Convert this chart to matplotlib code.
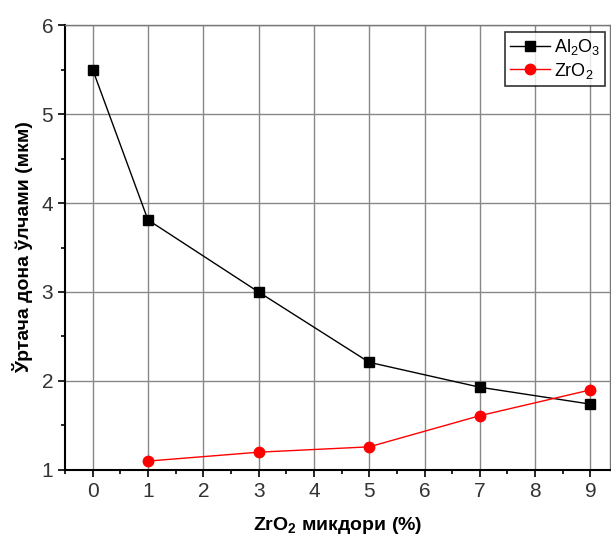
import matplotlib
matplotlib.use('Agg')
import matplotlib.pyplot as plt
from matplotlib.ticker import MultipleLocator

plt.rcParams['font.family'] = ['Liberation Sans', 'DejaVu Sans']
plt.rcParams['mathtext.fontset'] = 'custom'
plt.rcParams['mathtext.rm'] = 'Liberation Sans'
plt.rcParams['mathtext.bf'] = 'Liberation Sans:bold'
plt.rcParams['mathtext.default'] = 'regular'

x_al = [0, 1, 3, 5, 7, 9]
al2o3 = [5.50, 3.81, 3.00, 2.21, 1.93, 1.74]

x_zr = [1, 3, 5, 7, 9]
zro2 = [1.10, 1.20, 1.26, 1.61, 1.90]

fig = plt.figure(figsize=(6.11, 5.37), dpi=100)
ax = fig.add_axes([0.1064, 0.1248, 0.8916, 0.8286])

ax.plot(x_al, al2o3, color='black', lw=1, marker='s', ms=6.5, label='Al$_2$O$_3$', zorder=3)
ax.plot(x_zr, zro2, color='red', lw=1, marker='o', ms=7.5, label='ZrO$_2$', zorder=3)

ax.set_xlim(-0.5, 9.35)
ax.set_ylim(1, 6)
ax.xaxis.set_major_locator(MultipleLocator(1))
ax.xaxis.set_minor_locator(MultipleLocator(0.5))
ax.yaxis.set_major_locator(MultipleLocator(1))
ax.yaxis.set_minor_locator(MultipleLocator(0.5))
ax.grid(True, which='major', color='#888888', lw=1)
ax.set_axisbelow(True)

ax.tick_params(which='major', direction='out', length=5, width=1.2, labelsize=15, colors='black')
ax.tick_params(which='minor', direction='out', length=3, width=1.2)
for side in ['left', 'bottom']:
    ax.spines[side].set_linewidth(1.5)
for side in ['top', 'right']:
    ax.spines[side].set_linewidth(1)
    ax.spines[side].set_color('#777777')
for lbl in ax.get_xticklabels() + ax.get_yticklabels():
    lbl.set_color('#333333')

ax.set_xlabel(r'ZrO$_\mathbf{2}$ микдори (%)', fontsize=14, fontweight='bold', labelpad=10)
ax.set_ylabel('Ўртача дона ўлчами (мкм)', fontsize=14, fontweight='bold', labelpad=6)

leg = ax.legend(loc='upper right', bbox_to_anchor=(0.992, 0.985), fontsize=13,
                frameon=True, fancybox=False, edgecolor='black', handlelength=2.2,
                handletextpad=0.2, borderpad=0.3, labelspacing=0.2, borderaxespad=0)
leg.get_frame().set_linewidth(1.2)

fig.savefig('out.png', dpi=100)
